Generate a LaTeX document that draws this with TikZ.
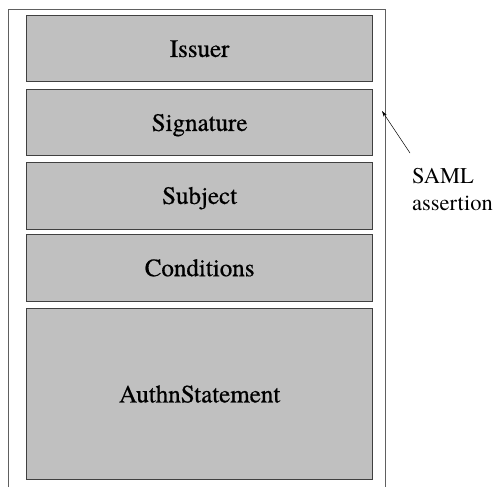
\documentclass[tikz,border=0pt]{standalone}
\usepackage{fontspec}
\IfFontExistsTF{texgyretermes-regular.otf}{\def\myfont{texgyretermes-regular.otf}}{\def\myfont{Liberation Serif}}
\setmainfont{\myfont}
\newfontfamily\boxfont[FakeBold=0.6]{\myfont}
\usetikzlibrary{arrows.meta}
\definecolor{boxfill}{HTML}{C0C0C0}
\definecolor{boxline}{HTML}{404040}
\definecolor{frameline}{HTML}{606060}
\begin{document}
\begin{tikzpicture}[x=1pt,y=-1pt,
  part/.style={draw=boxline, line width=1.3pt, fill=boxfill, minimum width=346pt, inner sep=0pt, anchor=north west},
  lbl/.style={font=\boxfont\fontsize{25}{30}\selectfont, anchor=base, inner sep=0pt},
  note/.style={font=\fontsize{22.5}{27}\selectfont, align=left, anchor=north west, inner sep=0pt}]
\useasboundingbox (0,0) rectangle (502,487);
% outer frame (open at bottom)
\draw[frameline, line width=0.9pt] (8,487) -- (8,9) -- (385,9) -- (385,487);
% parts
\node[part, minimum height=66pt] (issuer) at (26,15) {};
\node[part, minimum height=66pt] (signature) at (26,89) {};
\node[part, minimum height=67pt] (subject) at (26,161.5) {};
\node[part, minimum height=66.5pt] (conditions) at (26,234) {};
\node[part, minimum height=171pt] (authn) at (26,308) {};
\node[lbl] (tissuer) at ([yshift=-8.3pt]issuer.center) {Issuer};
\node[lbl] (tsignature) at ([yshift=-8.3pt]signature.center) {Signature};
\node[lbl] (tsubject) at ([yshift=-8.3pt]subject.center) {Subject};
\node[lbl] (tconditions) at ([yshift=-8.3pt]conditions.center) {Conditions};
\node[lbl] (tauthn) at ([yshift=-8.3pt]authn.center) {AuthnStatement};
% note and arrow
\node[note] (saml) at (412,168) {SAML\\assertion};
\coordinate (tail) at (410,153);
\coordinate (head) at (382,111);
\draw[line width=0.5pt, -{Stealth[length=6pt,width=3.5pt]}] (tail) -- (head);
\end{tikzpicture}
\end{document}
